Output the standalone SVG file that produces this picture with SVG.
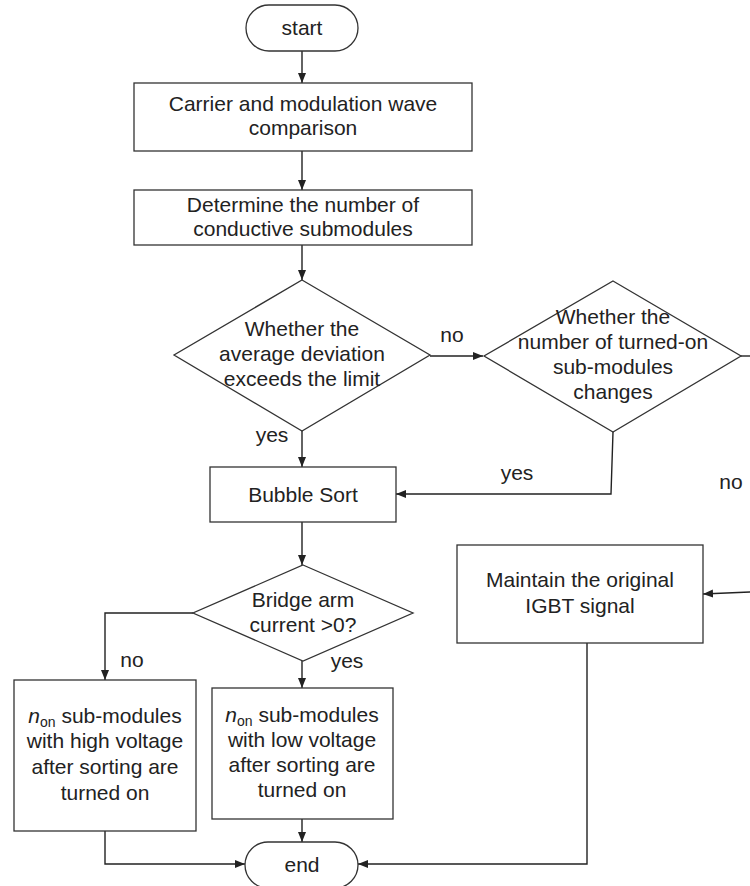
<svg xmlns="http://www.w3.org/2000/svg" width="750" height="886" viewBox="0 0 750 886">
<style>
.n{fill:#fff;stroke:#333;stroke-width:1.3}
.c{fill:none;stroke:#222;stroke-width:1.4}
.t{font-family:"Liberation Sans",Arial,sans-serif;font-size:21px;fill:#222;text-anchor:middle}
</style>
<defs>
<marker id="ah" markerUnits="userSpaceOnUse" markerWidth="11" markerHeight="9" refX="10" refY="4" orient="auto">
<path d="M0,0 L10,4 L0,8 z" fill="#222"/>
</marker>
</defs>
<rect width="750" height="886" fill="#fff"/>
<g id="connectors">
<line class="c" x1="302" y1="51" x2="302" y2="83" marker-end="url(#ah)"/>
<line class="c" x1="302" y1="151" x2="302" y2="190" marker-end="url(#ah)"/>
<line class="c" x1="302" y1="245" x2="302" y2="280" marker-end="url(#ah)"/>
<line class="c" x1="430" y1="356" x2="483" y2="356" marker-end="url(#ah)"/>
<line class="c" x1="302" y1="431" x2="302" y2="467" marker-end="url(#ah)"/>
<polyline class="c" points="613,432 611,494 396,494" marker-end="url(#ah)"/>
<line class="c" x1="741" y1="356" x2="750" y2="356"/>
<line class="c" x1="750" y1="592" x2="703" y2="594" marker-end="url(#ah)"/>
<line class="c" x1="302" y1="522" x2="302" y2="565" marker-end="url(#ah)"/>
<polyline class="c" points="193,613 105,613 105,680" marker-end="url(#ah)"/>
<line class="c" x1="302" y1="661" x2="302" y2="688" marker-end="url(#ah)"/>
<line class="c" x1="302" y1="819" x2="302" y2="842" marker-end="url(#ah)"/>
<polyline class="c" points="105,831 105,864 245,864" marker-end="url(#ah)"/>
<polyline class="c" points="587,643 587,864 358,864" marker-end="url(#ah)"/>
<text class="t" x="452" y="342">no</text>
<text class="t" x="272" y="442">yes</text>
<text class="t" x="517" y="480">yes</text>
<text class="t" x="731" y="489">no</text>
<text class="t" x="132" y="667">no</text>
<text class="t" x="347" y="668">yes</text>
</g>
<g id="start">
<rect class="n" x="246" y="5" width="112" height="46" rx="23"/>
<text class="t" x="302" y="35">start</text>
</g>
<g id="carrier">
<rect class="n" x="134" y="83" width="338" height="68"/>
<text class="t" x="303" y="111">Carrier and modulation wave</text>
<text class="t" x="303" y="135">comparison</text>
</g>
<g id="determine">
<rect class="n" x="134" y="190" width="338" height="55"/>
<text class="t" x="303" y="212">Determine the number of</text>
<text class="t" x="303" y="236">conductive submodules</text>
</g>
<g id="deviation">
<polygon class="n" points="302,280 430,355 302,431 174,355"/>
<text class="t" x="302" y="336">Whether the</text>
<text class="t" x="302" y="361">average deviation</text>
<text class="t" x="302" y="386">exceeds the limit</text>
</g>
<g id="changes">
<polygon class="n" points="613,281 741,356 613,432 484,356"/>
<text class="t" x="613" y="324">Whether the</text>
<text class="t" x="613" y="349">number of turned-on</text>
<text class="t" x="613" y="374">sub-modules</text>
<text class="t" x="613" y="399">changes</text>
</g>
<g id="bubble">
<rect class="n" x="210" y="467" width="186" height="55"/>
<text class="t" x="303" y="502">Bubble Sort</text>
</g>
<g id="bridge">
<polygon class="n" points="303,565 413,613 303,661 193,613"/>
<text class="t" x="303" y="607">Bridge arm</text>
<text class="t" x="303" y="632">current &gt;0?</text>
</g>
<g id="high">
<rect class="n" x="14" y="680" width="182" height="151"/>
<text class="t" x="105" y="723"><tspan font-style="italic">n</tspan><tspan font-size="14" dy="4">on</tspan><tspan dy="-4"> sub-modules</tspan></text>
<text class="t" x="105" y="748">with high voltage</text>
<text class="t" x="105" y="774">after sorting are</text>
<text class="t" x="105" y="800">turned on</text>
</g>
<g id="low">
<rect class="n" x="212" y="688" width="181" height="131"/>
<text class="t" x="302" y="722"><tspan font-style="italic">n</tspan><tspan font-size="14" dy="4">on</tspan><tspan dy="-4"> sub-modules</tspan></text>
<text class="t" x="302" y="747">with low voltage</text>
<text class="t" x="302" y="772">after sorting are</text>
<text class="t" x="302" y="797">turned on</text>
</g>
<g id="maintain">
<rect class="n" x="457" y="545" width="246" height="98"/>
<text class="t" x="580" y="587">Maintain the original</text>
<text class="t" x="580" y="613">IGBT signal</text>
</g>
<g id="end">
<rect class="n" x="245" y="842" width="113" height="46" rx="23"/>
<text class="t" x="302" y="872">end</text>
</g>
</svg>
